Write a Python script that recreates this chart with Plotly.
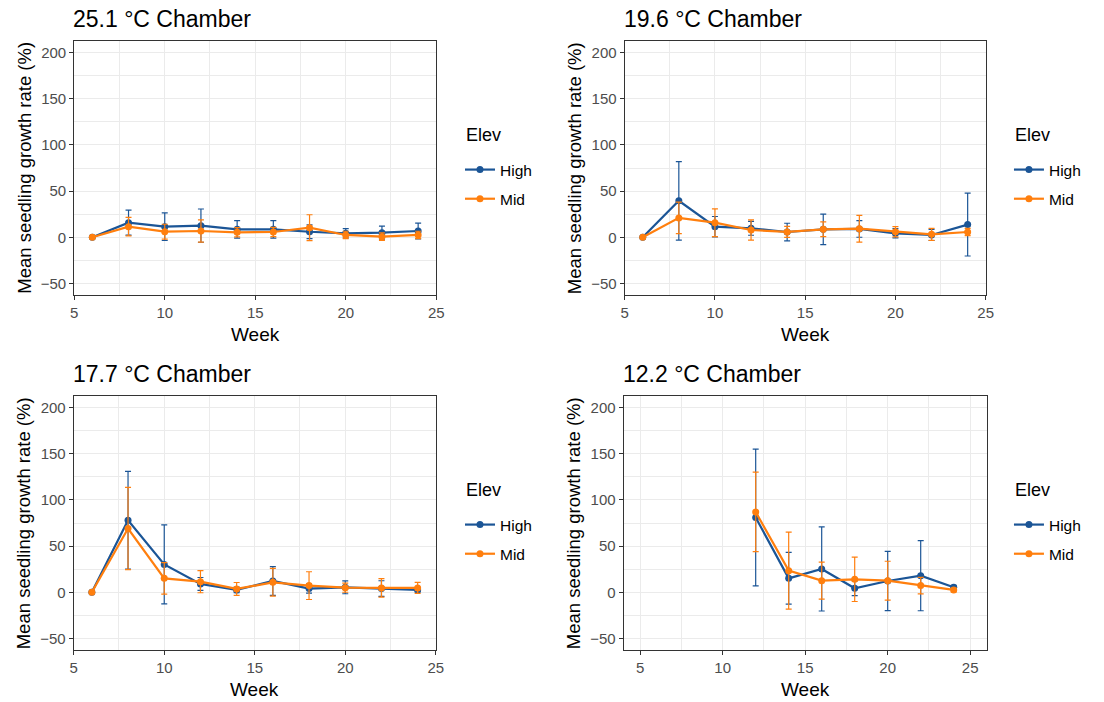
import plotly.graph_objects as go

# ---------------- data ----------------
panel_titles = ["25.1 °C Chamber", "19.6 °C Chamber", "17.7 °C Chamber", "12.2 °C Chamber"]
series_names = ["High", "Mid"]

weeks_full = [6, 8, 10, 12, 14, 16, 18, 20, 22, 24]
weeks_cold = [12, 14, 16, 18, 20, 22, 24]

# 25.1 °C
c25_high = [0, 15.8, 11.5, 12.6, 8.6, 8.6, 6.0, 4.3, 5.0, 6.8]
c25_high_err = [0, 13.5, 15, 18, 9.5, 9.5, 7.5, 5, 7, 8.5]
c25_mid = [0, 11.5, 6.1, 6.8, 5.4, 5.7, 10.4, 2.5, 0.7, 2.5]
c25_mid_err = [0, 10, 8, 12, 5, 5, 14, 4, 4, 4]

# 19.6 °C
c19_high = [0, 39.5, 11.5, 9.7, 5.7, 8.6, 9.0, 4.3, 2.5, 13.7]
c19_high_err = [0, 42.5, 11, 7.5, 9.5, 16.5, 9, 5, 6, 34]
c19_mid = [0, 21, 15.8, 7.9, 5.8, 8.6, 9.3, 6.0, 3.2, 5.7]
c19_mid_err = [0, 17, 15, 11, 6, 8, 14.5, 5.5, 6.5, 4]

# 17.7 °C
c17_high = [0, 78, 30.2, 9.0, 2.5, 12.2, 4.0, 5.4, 4.0, 2.5]
c17_high_err = [0, 53, 42.7, 7, 3, 15.6, 5, 7, 8.5, 2]
c17_mid = [0, 69, 15.1, 11.5, 3.6, 10.8, 7.2, 5.0, 4.7, 4.7]
c17_mid_err = [0, 44.5, 17, 12, 7, 15, 15, 5, 10, 6]

# 12.2 °C
c12_high = [81, 15.1, 25.2, 4.3, 12.2, 18, 5.4]
c12_high_err = [74, 28, 45.5, 8, 32, 38, 2]
c12_mid = [87, 23.4, 12.6, 14, 12.6, 7.2, 2.5]
c12_mid_err = [43, 41.7, 20, 24, 21, 9, 2]

panels = [
    (weeks_full, [(c25_high, c25_high_err), (c25_mid, c25_mid_err)]),
    (weeks_full, [(c19_high, c19_high_err), (c19_mid, c19_mid_err)]),
    (weeks_full, [(c17_high, c17_high_err), (c17_mid, c17_mid_err)]),
    (weeks_cold, [(c12_high, c12_high_err), (c12_mid, c12_mid_err)]),
]

x_tick_vals = [5, 10, 15, 20, 25]
y_tick_vals = [-50, 0, 50, 100, 150, 200]

# ---------------- style ----------------
W, H = 1104, 702
colors = {"High": "#1B5596", "Mid": "#FF7F0E"}
grid = "#EBEBEB"
frame = "#333333"
tickc = "#4D4D4D"
font = "Liberation Sans, Arial, sans-serif"

# pixel boxes: (left, right, top, bottom)
boxes = [
    (71, 437, 41, 295),
    (627.5, 992.5, 41, 295),
    (70.5, 436.5, 396, 650),
    (626.5, 993.5, 396, 650),
]
x_ranges = [[5, 25], [5, 25], [5, 25], [4, 26]]
# (legend left x, "Elev" centre y)
legend_pos = [(466, 135), (1021, 135), (466, 490), (1021, 490)]

fig = go.Figure()
layout = dict(
    width=W, height=H, margin=dict(l=0, r=0, t=0, b=0),
    plot_bgcolor="white", paper_bgcolor="white",
    font=dict(family=font, color="black"),
    annotations=[],
)

for i, (weeks, series) in enumerate(panels):
    n = i + 1
    xa = "x" if n == 1 else f"x{n}"
    ya = "y" if n == 1 else f"y{n}"
    lg = "legend" if n == 1 else f"legend{n}"
    for name, (vals, errs) in zip(series_names, series):
        fig.add_trace(go.Scatter(
            x=weeks, y=vals, mode="lines+markers", name=name,
            xaxis=xa, yaxis=ya, legend=lg, legendgroup=name,
            line=dict(color=colors[name], width=2.2),
            marker=dict(color=colors[name], size=7),
            error_y=dict(type="data", array=errs, visible=True,
                         color=colors[name], thickness=1.2, width=3),
        ))
    l, r, t, b = boxes[i]
    xd = [l / W, r / W]
    yd = [1 - b / H, 1 - t / H]
    axis_common = dict(
        showline=True, linecolor=frame, linewidth=1.1, mirror=True,
        ticks="outside", ticklen=4, tickcolor=frame, tickwidth=1.1,
        tickfont=dict(size=15, color=tickc, family=font),
        showgrid=True, gridcolor=grid, gridwidth=1.1, zeroline=False,
    )
    layout["xaxis" if n == 1 else f"xaxis{n}"] = dict(
        domain=xd, range=x_ranges[i], anchor=ya, tickvals=x_tick_vals,
        minor=dict(tickvals=[7.5, 12.5, 17.5, 22.5], showgrid=True,
                   gridcolor=grid, gridwidth=0.6, ticks=""),
        **axis_common)
    layout["yaxis" if n == 1 else f"yaxis{n}"] = dict(
        domain=yd, range=[-62.5, 212.5], anchor=xa, tickvals=y_tick_vals,
        minor=dict(tickvals=[-25, 25, 75, 125, 175], showgrid=True,
                   gridcolor=grid, gridwidth=0.6, ticks=""),
        **axis_common)
    lx, ly = legend_pos[i]
    layout[lg] = dict(
        x=(lx - 5) / W, y=1 - (ly + 18) / H, xanchor="left", yanchor="top",
        font=dict(size=15.5, color="black", family=font),
        bgcolor="rgba(0,0,0,0)", traceorder="grouped", tracegroupgap=6,
        itemwidth=30,
    )
    layout["annotations"].append(dict(
        text="Elev", xref="paper", yref="paper",
        x=(lx - 1) / W, y=1 - ly / H, xanchor="left", yanchor="middle",
        showarrow=False, font=dict(size=18, color="black", family=font)))
    # panel title
    layout["annotations"].append(dict(
        text=panel_titles[i], xref="paper", yref="paper",
        x=(l - 3) / W, y=1 - (t - 22) / H, xanchor="left", yanchor="middle",
        showarrow=False, font=dict(size=23, color="black", family=font)))
    # x title
    layout["annotations"].append(dict(
        text="Week", xref="paper", yref="paper",
        x=(l + r) / 2 / W, y=1 - (b + 39) / H, xanchor="center", yanchor="middle",
        showarrow=False, font=dict(size=19, color="black", family=font)))
    # y title
    layout["annotations"].append(dict(
        text="Mean seedling growth rate (%)", xref="paper", yref="paper",
        x=(l - 51) / W, y=1 - (t + b) / 2 / H, xanchor="center", yanchor="middle",
        textangle=-90, showarrow=False,
        font=dict(size=18.5, color="black", family=font)))

fig.update_layout(**layout)
fig.write_html("out.html")
